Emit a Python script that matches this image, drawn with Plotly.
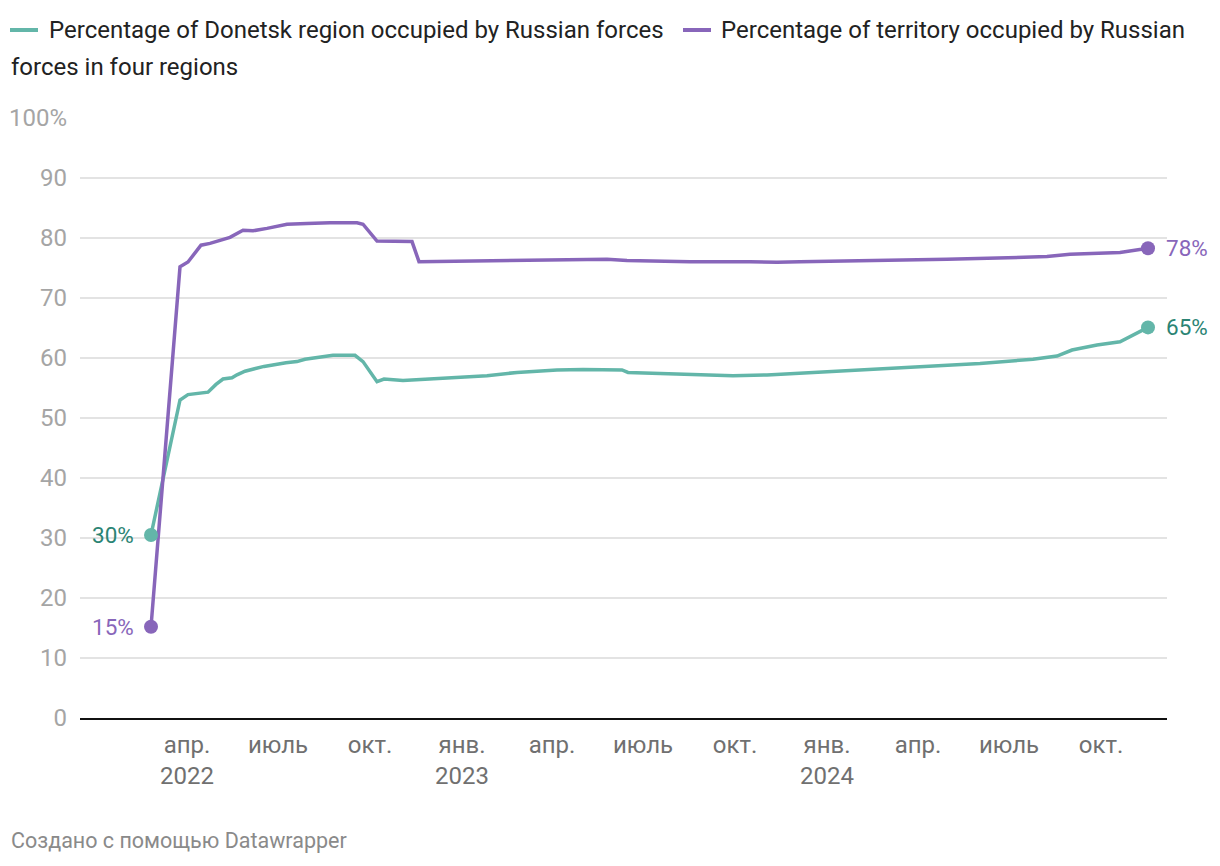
import plotly.graph_objects as go

# ---------------- data ----------------
donetsk_dates = [
    "2022-02-24", "2022-03-25", "2022-04-02", "2022-04-14", "2022-04-22", "2022-04-30",
    "2022-05-07", "2022-05-16", "2022-05-21", "2022-05-29", "2022-06-17", "2022-07-09",
    "2022-07-20", "2022-07-28", "2022-08-12", "2022-08-25", "2022-09-16", "2022-09-24",
    "2022-10-08", "2022-10-15", "2022-11-03", "2022-12-10", "2023-01-26", "2023-02-25",
    "2023-04-06", "2023-05-02", "2023-06-10", "2023-06-16", "2023-07-18", "2023-08-20",
    "2023-09-29", "2023-11-02", "2023-12-05", "2024-02-06", "2024-04-10", "2024-06-02",
    "2024-07-25", "2024-08-18", "2024-09-02", "2024-09-27", "2024-10-20", "2024-11-17",
]
donetsk = [
    30.5, 53.0, 53.9, 54.2, 54.3, 55.6,
    56.5, 56.7, 57.2, 57.8, 58.6, 59.2,
    59.4, 59.8, 60.2, 60.45, 60.45, 59.4,
    56.05, 56.5, 56.25, 56.6, 57.06, 57.6,
    58.0, 58.1, 58.0, 57.6, 57.45, 57.17,
    57.06, 57.17, 57.45, 58.0, 58.55, 59.1,
    59.8, 60.33, 61.33, 62.17, 62.7, 65.1,
]

four_dates = [
    "2022-02-24", "2022-03-25", "2022-04-02", "2022-04-15", "2022-04-24", "2022-05-14",
    "2022-05-27", "2022-06-06", "2022-06-20", "2022-07-10", "2022-07-30", "2022-08-22",
    "2022-09-18", "2022-09-24", "2022-10-08", "2022-11-12", "2022-11-19", "2023-02-08",
    "2023-04-22", "2023-05-26", "2023-06-15", "2023-08-17", "2023-10-16", "2023-11-12",
    "2023-12-05", "2024-02-10", "2024-04-30", "2024-08-08", "2024-08-31", "2024-10-20",
    "2024-11-17",
]
four_regions = [
    15.2, 75.2, 76.0, 78.8, 79.1, 80.1,
    81.3, 81.2, 81.6, 82.3, 82.4, 82.55,
    82.55, 82.3, 79.5, 79.4, 76.05, 76.2,
    76.45, 76.45, 76.25, 76.05, 76.05, 75.95,
    76.05, 76.2, 76.45, 76.9, 77.3, 77.6,
    78.3,
]

series_names = [
    "Percentage of Donetsk region occupied by Russian forces",
    "Percentage of territory occupied by Russian",
    "forces in four regions",
]

tick_dates = ["2022-04-01", "2022-07-01", "2022-10-01", "2023-01-01", "2023-04-01",
              "2023-07-01", "2023-10-01", "2024-01-01", "2024-04-01", "2024-07-01",
              "2024-10-01"]
tick_labels = ["апр.<br>2022", "июль", "окт.", "янв.<br>2023", "апр.", "июль", "окт.",
               "янв.<br>2024", "апр.", "июль", "окт."]
y_ticks = [0, 10, 20, 30, 40, 50, 60, 70, 80, 90, 100]
y_labels = ["0", "10", "20", "30", "40", "50", "60", "70", "80", "90", "100%"]

footer = "Создано с помощью Datawrapper"

# ---------------- style ----------------
OFF = 8                      # page body margin
W, H = 1220 - OFF, 866 - OFF
L, R, T, B = 80, 1167, 118, 718   # plot area in screen pixels
TEAL = "#63b6a9"
TEAL_TXT = "#2b8474"
PURPLE = "#8866ba"
FONT = "Roboto"


def px(xp):
    return (xp - L) / (R - L)


def py(yp):
    return (B - yp) / (B - T)


fig = go.Figure()

fig.add_trace(go.Scatter(x=donetsk_dates, y=donetsk, mode="lines",
                         line=dict(color=TEAL, width=3.5), hoverinfo="skip", showlegend=False))
fig.add_trace(go.Scatter(x=four_dates, y=four_regions, mode="lines",
                         line=dict(color=PURPLE, width=3.5), hoverinfo="skip", showlegend=False))
fig.add_trace(go.Scatter(x=[donetsk_dates[0], donetsk_dates[-1]], y=[donetsk[0], donetsk[-1]],
                         mode="markers", marker=dict(color=TEAL, size=14),
                         hoverinfo="skip", showlegend=False))
fig.add_trace(go.Scatter(x=[four_dates[0], four_dates[-1]], y=[four_regions[0], four_regions[-1]],
                         mode="markers", marker=dict(color=PURPLE, size=14),
                         hoverinfo="skip", showlegend=False))

annotations = []
for d, v, col, anchor, shift in [
    (donetsk_dates[0], donetsk[0], TEAL_TXT, "right", -15),
    (four_dates[0], four_regions[0], PURPLE, "right", -15),
    (donetsk_dates[-1], donetsk[-1], TEAL_TXT, "left", 16),
    (four_dates[-1], four_regions[-1], PURPLE, "left", 16),
]:
    annotations.append(dict(x=d, y=v, xref="x", yref="y", text=f"{round(v)}%",
                            showarrow=False, xanchor=anchor, yanchor="middle", xshift=shift,
                            font=dict(family=FONT, size=22.5, color=col)))

annotations.append(dict(x=px(47), y=py(30), xref="paper", yref="paper", text=series_names[0],
                        showarrow=False, xanchor="left", yanchor="middle",
                        font=dict(family=FONT, size=24, color="#222222")))
annotations.append(dict(x=px(719), y=py(30), xref="paper", yref="paper", text=series_names[1],
                        showarrow=False, xanchor="left", yanchor="middle",
                        font=dict(family=FONT, size=24, color="#222222")))
annotations.append(dict(x=px(9), y=py(67), xref="paper", yref="paper", text=series_names[2],
                        showarrow=False, xanchor="left", yanchor="middle",
                        font=dict(family=FONT, size=24, color="#222222")))
annotations.append(dict(x=px(9), y=py(840), xref="paper", yref="paper", text=footer,
                        showarrow=False, xanchor="left", yanchor="middle",
                        font=dict(family=FONT, size=21.5, color="#8a8a8a")))

shapes = [
    dict(type="line", xref="paper", yref="paper", x0=px(10), x1=px(38), y0=py(30), y1=py(30),
         line=dict(color=TEAL, width=4)),
    dict(type="line", xref="paper", yref="paper", x0=px(683), x1=px(711), y0=py(30), y1=py(30),
         line=dict(color=PURPLE, width=4)),
]

fig.update_layout(
    width=W, height=H,
    margin=dict(l=L - OFF, r=W - (R - OFF), t=T - OFF, b=H - (B - OFF), pad=0, autoexpand=False),
    paper_bgcolor="white", plot_bgcolor="white",
    font=dict(family=FONT),
    annotations=annotations, shapes=shapes,
    xaxis=dict(
        type="date", range=["2021-12-15", "2024-12-06"],
        tickmode="array", tickvals=tick_dates, ticktext=tick_labels,
        showgrid=False, zeroline=False, automargin=False,
        showline=True, linecolor="#111111", linewidth=2,
        ticks="", ticklabelstandoff=4,
        tickfont=dict(family=FONT, size=24, color="#707070"),
        fixedrange=True,
    ),
    yaxis=dict(
        range=[0, 100], tickmode="array", tickvals=y_ticks, ticktext=y_labels,
        showgrid=True, gridcolor="#e3e3e3", gridwidth=1.5, zeroline=False, automargin=False,
        showline=False, ticks="", ticklabelstandoff=12,
        tickfont=dict(family=FONT, size=24, color="#a5a5a5"),
        fixedrange=True,
    ),
)

fig.write_html("out.html")
